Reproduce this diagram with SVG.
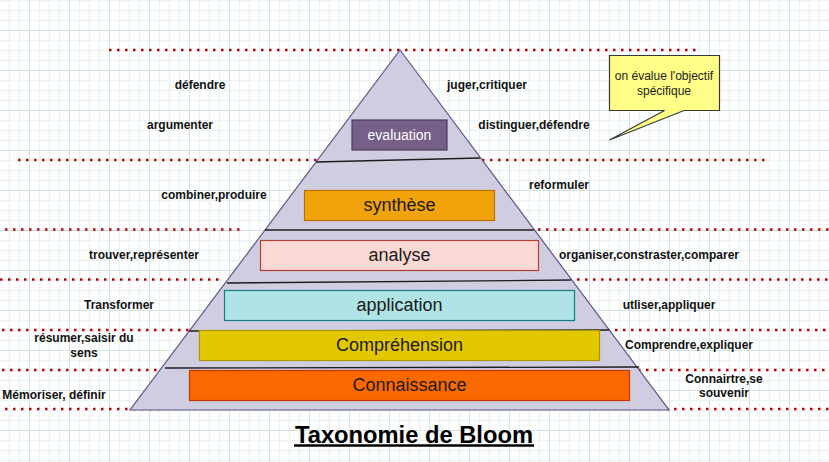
<svg xmlns="http://www.w3.org/2000/svg" width="829" height="462" viewBox="0 0 829 462">
  <defs>
    <!-- background graph paper: 10px minor cells, 40px major cells -->
    <pattern id="grid" patternUnits="userSpaceOnUse" x="29" y="30" width="40" height="40">
      <path d="M10.5 0V40M20.5 0V40M30.5 0V40M0 10.5H40M0 20.5H40M0 30.5H40" stroke="#ebf4f2" stroke-width="1.5" fill="none"/>
      <path d="M0.5 0V40M0 0.5H40" stroke="#d2e3e0" stroke-width="1" fill="none"/>
    </pattern>
    <style>
      .dots { stroke: #c00000; stroke-width: 2.5; stroke-dasharray: 2.5 5.5; fill: none; }
      .sep { stroke: #1c1c1c; stroke-width: 1.3; fill: none; }
      .lbl { font-family: "Liberation Sans", Arial, sans-serif; font-size: 12px; font-weight: bold; fill: #111; text-anchor: middle; }
      .lvl { font-family: "Liberation Sans", Arial, sans-serif; font-size: 18px; fill: #1a1a1a; text-anchor: middle; }
      .note { font-family: "Liberation Sans", Arial, sans-serif; font-size: 12px; fill: #222; text-anchor: middle; }
    </style>
  </defs>

  <rect width="829" height="462" fill="#ffffff"/>
  <rect width="829" height="462" fill="url(#grid)"/>

  <!-- red dotted level guides -->
  <g id="guides">
    <line class="dots" x1="109" y1="50" x2="700" y2="50"/>
    <line class="dots" x1="18" y1="160" x2="770" y2="160"/>
    <line class="dots" x1="5" y1="229.5" x2="240" y2="229.5"/>
    <line class="dots" x1="538" y1="229.5" x2="829" y2="229.5"/>
    <line class="dots" x1="0" y1="279.5" x2="220" y2="279.5"/>
    <line class="dots" x1="569" y1="279.5" x2="829" y2="279.5"/>
    <line class="dots" x1="2" y1="330" x2="190" y2="330"/>
    <line class="dots" x1="607" y1="330" x2="829" y2="330"/>
    <line class="dots" x1="2" y1="370" x2="170" y2="370"/>
    <line class="dots" x1="638" y1="370" x2="829" y2="370"/>
    <line class="dots" x1="5" y1="409" x2="160" y2="409"/>
    <line class="dots" x1="658" y1="409" x2="829" y2="409"/>
  </g>

  <!-- pyramid body -->
  <g id="pyramid">
    <polygon points="400,50 669,410 130,410" fill="#d0cde1" stroke="#5c5887" stroke-width="1.2"/>
  </g>

  <!-- level separators -->
  <g id="connectors">
    <line class="sep" x1="316" y1="162" x2="480" y2="158"/>
    <line class="sep" x1="265" y1="230" x2="534" y2="230"/>
    <line class="sep" x1="227" y1="283" x2="571" y2="280"/>
    <line class="sep" x1="189" y1="331" x2="609" y2="330"/>
    <line class="sep" x1="165" y1="368" x2="639" y2="367"/>
  </g>

  <!-- levels of the pyramid -->
  <g id="evaluation">
    <rect x="352" y="120" width="95" height="30" fill="#76608a" stroke="#4d3c61" stroke-width="1.2"/>
    <text x="399.5" y="140" class="lvl" style="font-size:14px;fill:#ffffff">evaluation</text>
  </g>
  <g id="synthese">
    <rect x="304.5" y="190.5" width="190" height="30" fill="#f0a30a" stroke="#bd7000" stroke-width="1.2"/>
    <text x="399.5" y="211" class="lvl">synthèse</text>
  </g>
  <g id="analyse">
    <rect x="260.5" y="240.5" width="278" height="30" fill="#fad9d5" stroke="#ae4132" stroke-width="1.2"/>
    <text x="399.5" y="261" class="lvl">analyse</text>
  </g>
  <g id="application">
    <rect x="224.5" y="290.5" width="350" height="30" fill="#b0e3e6" stroke="#0e8088" stroke-width="1.2"/>
    <text x="399.5" y="311" class="lvl">application</text>
  </g>
  <g id="comprehension">
    <rect x="199.5" y="330.5" width="400" height="30" fill="#e3c800" stroke="#b09500" stroke-width="1.2"/>
    <text x="399.5" y="351" class="lvl">Compréhension</text>
  </g>
  <g id="connaissance">
    <rect x="189.5" y="370.5" width="440" height="30" fill="#fa6800" stroke="#c73500" stroke-width="1.2"/>
    <text x="409.5" y="391" class="lvl">Connaissance</text>
  </g>

  <!-- verbs beside each level -->
  <g id="verbs">
    <text x="200" y="89" class="lbl">défendre</text>
    <text x="180" y="129" class="lbl">argumenter</text>
    <text x="487" y="89" class="lbl">juger,critiquer</text>
    <text x="534" y="129" class="lbl">distinguer,défendre</text>
    <text x="214" y="199" class="lbl">combiner,produire</text>
    <text x="559" y="188.5" class="lbl">reformuler</text>
    <text x="144" y="259" class="lbl">trouver,représenter</text>
    <text x="649" y="259" class="lbl">organiser,constraster,comparer</text>
    <text x="119" y="309" class="lbl">Transformer</text>
    <text x="669" y="309" class="lbl">utliser,appliquer</text>
    <text x="84" y="341.5" class="lbl">résumer,saisir du</text>
    <text x="84" y="356.5" class="lbl">sens</text>
    <text x="689" y="348.5" class="lbl">Comprendre,expliquer</text>
    <text x="54" y="399" class="lbl">Mémoriser, définir</text>
    <text x="724" y="382.5" class="lbl">Connairtre,se</text>
    <text x="724" y="397" class="lbl">souvenir</text>
  </g>

  <!-- callout note -->
  <g id="note">
    <path d="M609.5 55.5H719.5V110.5H684L609.5 140L664.5 110.5H609.5Z" fill="#ffff88" stroke="#36393d" stroke-width="1.2" stroke-linejoin="miter"/>
    <text x="664" y="80" class="note">on évalue l'objectif</text>
    <text x="664" y="94.5" class="note">spécifique</text>
  </g>

  <!-- title -->
  <g id="title">
    <text x="414" y="443" font-family="Liberation Sans, Arial, sans-serif" font-size="23" font-weight="bold" fill="#000" text-anchor="middle" textLength="238" lengthAdjust="spacingAndGlyphs">Taxonomie de Bloom</text>
    <line x1="294" y1="445.5" x2="534" y2="445.5" stroke="#000" stroke-width="2.5"/>
  </g>
</svg>
